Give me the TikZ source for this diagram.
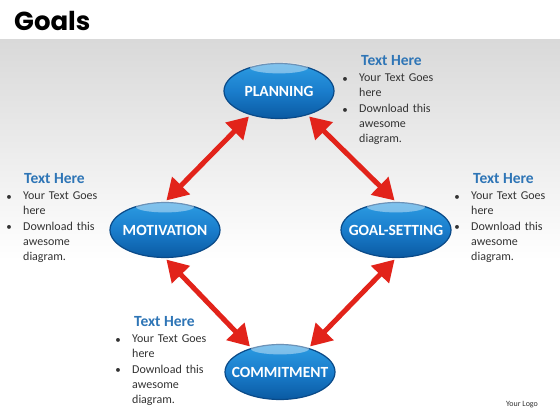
\documentclass[tikz,border=0pt]{standalone}
\usepackage{fontspec}
\setmainfont{Carlito}
\newfontfamily\titlefont{Poppins}
\usetikzlibrary{arrows.meta,shapes.geometric}
\definecolor{bandgray}{HTML}{D9D9D9}
\definecolor{btop}{HTML}{2C9CE2}
\definecolor{bmid}{HTML}{1A7DCC}
\definecolor{bbot}{HTML}{0A5AA2}
\definecolor{bedge}{HTML}{0A4A88}
\definecolor{headblue}{HTML}{2E75B6}
\definecolor{bodygray}{HTML}{333333}
\definecolor{arrowred}{HTML}{E2231A}
\tikzset{
  goalbtn/.style={ellipse, minimum width=110pt, minimum height=55pt, inner sep=0pt,
    draw=bedge, line width=1.2pt, top color=btop, bottom color=bbot, middle color=bmid,
    label={[text=white, inner sep=0pt, font=\bfseries\fontsize{15.5}{17}\selectfont]center:#1}},
  shine/.style={ellipse, minimum width=58pt, minimum height=11pt, inner sep=0pt,
    fill=white, fill opacity=0.4, draw=none},
  redarrow/.style={draw=arrowred, line width=5pt,
    {Triangle[width=24pt,length=21pt,fill=arrowred]}-{Triangle[width=24pt,length=21pt,fill=arrowred]},
    shorten <=2pt, shorten >=2pt},
  heading/.style={anchor=west, text=headblue, font=\bfseries\fontsize{15.5}{17}\selectfont, inner sep=0pt},
  bodytext/.style={anchor=north west, text=bodygray, font=\fontsize{12}{15}\selectfont,
    inner sep=0pt, align=left, text width=85pt},
  bul/.style={anchor=center, text=bodygray, font=\fontsize{11}{15}\selectfont, inner sep=0pt}
}
\begin{document}
\begin{tikzpicture}[x=1pt,y=-1pt]
\useasboundingbox (0,0) rectangle (560,420);
\fill[white] (0,0) rectangle (560,420);
\shade[top color=bandgray, bottom color=white] (0,40) rectangle (560,260);
\node[anchor=west, inner sep=0pt, font=\titlefont\bfseries\fontsize{26}{28}\selectfont] (title) at (14,21) {Goals};

\node[goalbtn=PLANNING] (plan) at (279,91) {};
\node[goalbtn=MOTIVATION] (mot) at (165,230) {};
\node[goalbtn=GOAL-SETTING] (goal) at (396,230) {};
\node[goalbtn=COMMITMENT] (com) at (280,372) {};
\foreach \n in {plan,mot,goal,com}{
  \node[shine] (\n-shine) at ([yshift=-5pt]\n.north) {};
}

\draw[redarrow] (plan.220) -- (mot.north);
\draw[redarrow] (plan.320) -- (goal.north);
\draw[redarrow] (mot.south) -- (com.140);
\draw[redarrow] (goal.south) -- (com.40);

% top right text
\node[heading] (h1) at (361,61) {Text Here};
\node[bul] (b1a) at (345,80) {•};
\node[bul] (b1b) at (345,111) {•};
\node[bodytext] (t1a) at (359,74) {Your Text Goes\\here};
\node[bodytext] (t1b) at (359,104) {Download this\\awesome\\diagram.};

% left text
\node[heading] (h2) at (24,179) {Text Here};
\node[bul] (b2a) at (9,198) {•};
\node[bul] (b2b) at (9,228) {•};
\node[bodytext] (t2a) at (23,192) {Your Text Goes\\here};
\node[bodytext] (t2b) at (23,222) {Download this\\awesome\\diagram.};

% right text
\node[heading] (h3) at (473,179) {Text Here};
\node[bul] (b3a) at (457,198) {•};
\node[bul] (b3b) at (457,228) {•};
\node[bodytext] (t3a) at (471,192) {Your Text Goes\\here};
\node[bodytext] (t3b) at (471,222) {Download this\\awesome\\diagram.};

% bottom text
\node[heading] (h4) at (134,322) {Text Here};
\node[bul] (b4a) at (118,341) {•};
\node[bul] (b4b) at (118,371) {•};
\node[bodytext] (t4a) at (132,335) {Your Text Goes\\here};
\node[bodytext] (t4b) at (132,365) {Download this\\awesome\\diagram.};

\node[anchor=center, inner sep=0pt, text=bodygray, font=\fontsize{8}{9}\selectfont] (logo) at (522,405) {Your Logo};
\end{tikzpicture}
\end{document}
